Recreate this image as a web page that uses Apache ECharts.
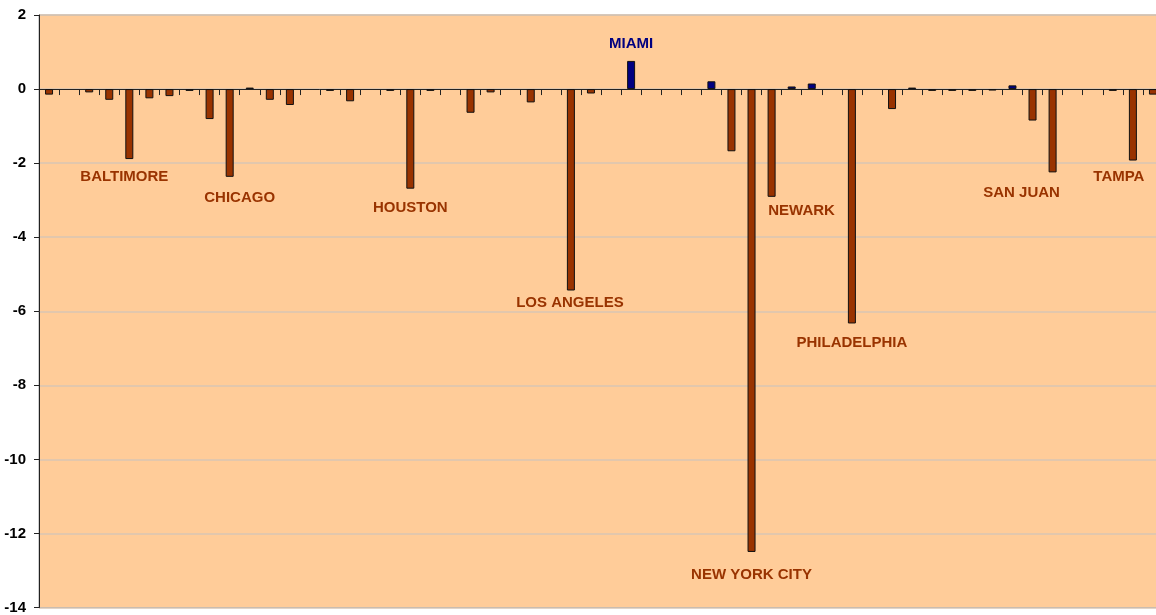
<!DOCTYPE html>
<html>
<head>
<meta charset="utf-8">
<script src="https://cdn.jsdelivr.net/npm/echarts@6/dist/echarts.min.js"></script>
<style>
html,body{margin:0;padding:0;background:#fff;overflow:hidden;width:1156px;height:615px;}
#chart{width:1170px;height:615px;}
</style>
</head>
<body>
<div id="chart"></div>
<script>
// Category names (only the labelled ones are known from the picture)
const cities = [
  null, null, null, null, 'BALTIMORE', null, null, null, null, 'CHICAGO',
  null, null, null, null, null, null, null, null, 'HOUSTON', null,
  null, null, null, null, null, null, 'LOS ANGELES', null, null, 'MIAMI',
  null, null, null, null, null, 'NEW YORK CITY', 'NEWARK', null, null, null,
  'PHILADELPHIA', null, null, null, null, null, null, null, null, null,
  'SAN JUAN', null, null, null, 'TAMPA', null
];
// Values
const values = [
  -0.15, 0, -0.09, -0.29, -1.89, -0.25, -0.19, -0.05, -0.81, -2.37,
  0.04, -0.29, -0.43, 0, -0.05, -0.33, 0, -0.05, -2.69, -0.05,
  0, -0.64, -0.09, 0, -0.36, 0, -5.44, -0.12, 0, 0.76,
  0, 0, 0, 0.21, -1.68, -12.5, -2.91, 0.07, 0.15, 0,
  -6.33, 0, -0.54, 0.04, -0.05, -0.05, -0.05, -0.04, 0.10, -0.85,
  -2.25, 0, 0, -0.05, -1.93, -0.15
];
const yTicks = [-14, -12, -10, -8, -6, -4, -2, 0, 2];

// label placement tweaks (pixels) for the moved data labels
const labelShift = {
  'BALTIMORE': [-5, 5], 'CHICAGO': [10, 9], 'HOUSTON': [0, 7], 'LOS ANGELES': [-1, 0],
  'MIAMI': [0, -5], 'NEW YORK CITY': [0, 10], 'NEWARK': [30, 2], 'PHILADELPHIA': [0, 7],
  'SAN JUAN': [-31, 8], 'TAMPA': [-14, 4]
};

const BROWN = '#993300', NAVY = '#000080';
const FONT = '"Liberation Sans", Arial, sans-serif';

const seriesData = values.map((v, i) => {
  const name = cities[i];
  const item = {
    value: v,
    itemStyle: { color: v >= 0 ? NAVY : BROWN, borderWidth: v === 0 ? 0 : 1 }
  };
  if (name) {
    const sh = labelShift[name] || [0, 0];
    item.label = {
      show: true,
      position: 'outside',
      formatter: name,
      offset: sh,
      color: v >= 0 ? NAVY : BROWN
    };
  }
  return item;
});

const chart = echarts.init(document.getElementById('chart'), null, { renderer: 'canvas' });
chart.setOption({
  animation: false,
  backgroundColor: '#ffffff',
  grid: {
    left: 39, top: 15, height: 594.5, width: 1124,
    show: true, backgroundColor: '#FFCC99', borderColor: '#a0a0a0', borderWidth: 1,
    containLabel: false
  },
  xAxis: {
    type: 'category',
    data: cities.map((c, i) => c || ('#' + (i + 1))),
    boundaryGap: true,
    axisLine: { onZero: true, lineStyle: { color: '#222', width: 1 } },
    axisTick: { show: true, interval: 0, length: 6, lineStyle: { color: '#222' } },
    axisLabel: { show: false, interval: 0 },
    splitLine: { show: false }
  },
  yAxis: {
    type: 'value',
    min: yTicks[0], max: yTicks[yTicks.length - 1], interval: 2,
    axisLine: { show: true, lineStyle: { color: '#222', width: 1 } },
    axisTick: { show: true, length: 5, lineStyle: { color: '#222' } },
    axisLabel: { color: '#000', fontFamily: FONT, fontWeight: 'bold', fontSize: 15, margin: 13 },
    splitLine: { show: true, lineStyle: { color: '#D9C6B4', width: 1.5 } }
  },
  series: [{
    type: 'bar',
    data: seriesData,
    barWidth: 8,
    itemStyle: { borderColor: '#111' },
    label: {
      fontFamily: FONT, fontWeight: 'bold', fontSize: 15, distance: 5
    }
  }]
});
</script>
</body>
</html>
